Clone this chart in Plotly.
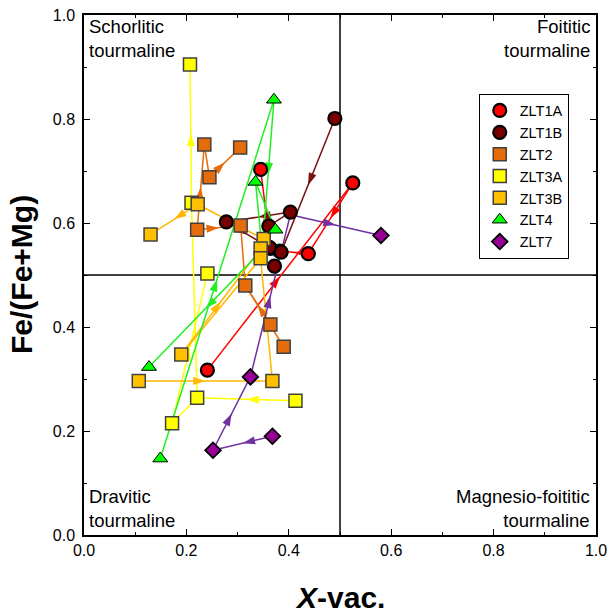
import plotly.graph_objects as go

# ---------------- data ----------------
series_names = ["ZLT1A", "ZLT1B", "ZLT2", "ZLT3A", "ZLT3B", "ZLT4", "ZLT7"]

ZLT1A_x = [0.241, 0.525, 0.438, 0.382, 0.364, 0.345]
ZLT1A_y = [0.317, 0.677, 0.541, 0.546, 0.551, 0.703]
ZLT1A_shown = [1, 1, 1, 1, 1, 1]
ZLT1A_arrows = [(0, 1), (1, 2), (2, 3), (4, 5)]
ZLT1A_links = []

ZLT1B_x = [0.278, 0.403, 0.361, 0.385, 0.372, 0.490, 0.362]
ZLT1B_y = [0.602, 0.621, 0.594, 0.544, 0.517, 0.801, 0.553]
ZLT1B_shown = [1, 1, 1, 1, 1, 1, 1]
ZLT1B_arrows = [(5, 3), (1, 0), (0, 6)]
ZLT1B_links = [(1, 2)]

ZLT2_x = [0.235, 0.305, 0.245, 0.221, 0.306, 0.315, 0.364, 0.390]
ZLT2_y = [0.751, 0.745, 0.688, 0.587, 0.595, 0.480, 0.405, 0.362]
ZLT2_shown = [1, 1, 1, 1, 1, 1, 1, 1]
ZLT2_arrows = [(3, 0), (2, 1), (3, 4), (6, 5), (7, 5)]
ZLT2_links = [(0, 2), (5, 4)]

ZLT3A_x = [0.207, 0.210, 0.241, 0.221, 0.172, 0.413]
ZLT3A_y = [0.905, 0.639, 0.503, 0.264, 0.215, 0.258]
ZLT3A_shown = [1, 1, 1, 1, 1, 1]
ZLT3A_arrows = [(1, 0), (5, 3), (4, 2)]
ZLT3A_links = [(3, 4), (3, 1)]

ZLT3B_x = [0.222, 0.130, 0.107, 0.368, 0.190, 0.351, 0.345, 0.345]
ZLT3B_y = [0.636, 0.578, 0.296, 0.296, 0.347, 0.569, 0.551, 0.532]
ZLT3B_shown = [1, 1, 1, 1, 1, 1, 1, 1]
ZLT3B_arrows = [(0, 1), (2, 3), (3, 7), (4, 6)]
ZLT3B_links = [(4, 7), (0, 5)]

ZLT4_x = [0.371, 0.335, 0.374, 0.127, 0.149, 0.348]
ZLT4_y = [0.837, 0.679, 0.587, 0.323, 0.147, 0.548]
ZLT4_shown = [1, 1, 1, 1, 1, 0]
ZLT4_arrows = [(0, 5), (4, 0), (5, 3)]
ZLT4_links = [(1, 2), (1, 5)]

ZLT7_x = [0.580, 0.325, 0.368, 0.252, 0.403]
ZLT7_y = [0.576, 0.304, 0.190, 0.163, 0.616]
ZLT7_shown = [1, 1, 1, 1, 0]
ZLT7_arrows = [(4, 0), (2, 3), (3, 1), (1, 4)]
ZLT7_links = []

quadrant_labels = ["Schorlitic<br>tourmaline", "Foititic<br>tourmaline",
                   "Dravitic<br>tourmaline", "Magnesio-foititic<br>tourmaline"]
tick_vals = [0.0, 0.2, 0.4, 0.6, 0.8, 1.0]
tick_text = ["0.0", "0.2", "0.4", "0.6", "0.8", "1.0"]

# ---------------- styles ----------------
styles = {
    "ZLT1A": dict(fill="#FF0000", line="#FF0000", symbol="circle", size=13, edge="#000000", ew=2.2),
    "ZLT1B": dict(fill="#7A0000", line="#7A1010", symbol="circle", size=13, edge="#000000", ew=2.2),
    "ZLT2": dict(fill="#E46C0A", line="#E46C0A", symbol="square", size=13, edge="#404040", ew=1.5),
    "ZLT3A": dict(fill="#FFFF00", line="#FFFF00", symbol="square", size=13, edge="#404040", ew=1.5),
    "ZLT3B": dict(fill="#FFC000", line="#FFB800", symbol="square", size=13, edge="#404040", ew=1.5),
    "ZLT4": dict(fill="#00FF00", line="#22EE22", symbol="triangle-up", size=13, edge="#000000", ew=1),
    "ZLT7": dict(fill="#990099", line="#7030A0", symbol="diamond", size=12, edge="#000000", ew=1.8),
}

data = {
    "ZLT1A": (ZLT1A_x, ZLT1A_y, ZLT1A_shown, ZLT1A_arrows, ZLT1A_links),
    "ZLT1B": (ZLT1B_x, ZLT1B_y, ZLT1B_shown, ZLT1B_arrows, ZLT1B_links),
    "ZLT2": (ZLT2_x, ZLT2_y, ZLT2_shown, ZLT2_arrows, ZLT2_links),
    "ZLT3A": (ZLT3A_x, ZLT3A_y, ZLT3A_shown, ZLT3A_arrows, ZLT3A_links),
    "ZLT3B": (ZLT3B_x, ZLT3B_y, ZLT3B_shown, ZLT3B_arrows, ZLT3B_links),
    "ZLT4": (ZLT4_x, ZLT4_y, ZLT4_shown, ZLT4_arrows, ZLT4_links),
    "ZLT7": (ZLT7_x, ZLT7_y, ZLT7_shown, ZLT7_arrows, ZLT7_links),
}

fig = go.Figure()

# lines with mid-arrows first
for name in series_names:
    xs, ys, shown, arrows, links = data[name]
    st = styles[name]
    for (i, j) in links:
        fig.add_trace(go.Scatter(x=[xs[i], xs[j]], y=[ys[i], ys[j]], mode="lines",
                                 line=dict(color=st["line"], width=1.5),
                                 showlegend=False, hoverinfo="skip"))
    for (i, j) in arrows:
        xm = (xs[i] + xs[j]) / 2
        ym = (ys[i] + ys[j]) / 2
        fig.add_trace(go.Scatter(
            x=[xs[i], xm, xs[j]], y=[ys[i], ym, ys[j]], mode="lines+markers",
            line=dict(color=st["line"], width=1.5),
            marker=dict(symbol=["circle", "arrow", "circle"], size=[0, 13, 0],
                        opacity=[0, 1, 0], angleref="previous", color=st["line"],
                        line=dict(width=0)),
            showlegend=False, hoverinfo="skip"))

# markers on top
for name in series_names:
    xs, ys, shown, arrows, links = data[name]
    st = styles[name]
    mx = [x for x, s in zip(xs, shown) if s]
    my = [y for y, s in zip(ys, shown) if s]
    fig.add_trace(go.Scatter(
        x=mx, y=my, mode="markers", name=name,
        marker=dict(symbol=st["symbol"], size=st["size"], color=st["fill"],
                    line=dict(color=st["edge"], width=st["ew"]))))

font_family = "Liberation Sans, Arial, sans-serif"

axis_common = dict(
    range=[0, 1], tickvals=tick_vals, ticktext=tick_text,
    ticks="inside", ticklen=6, tickwidth=1.2, tickcolor="black",
    minor=dict(ticks="inside", dtick=0.1, ticklen=3, tickwidth=1, tickcolor="black"),
    showline=True, linecolor="black", linewidth=1.5, mirror="allticks",
    showgrid=False, zeroline=False, automargin=False,
    tickfont=dict(family=font_family, size=16, color="black"),
    fixedrange=True,
)

fig.update_xaxes(**axis_common)
fig.update_yaxes(**axis_common, ticklabelstandoff=4)

# quadrant division lines
fig.add_shape(type="line", x0=0.5, x1=0.5, y0=0, y1=1, xref="x", yref="y",
              line=dict(color="black", width=1.5), layer="below")
fig.add_shape(type="line", x0=0, x1=1, y0=0.5, y1=0.5, xref="x", yref="y",
              line=dict(color="black", width=1.5), layer="below")

lab_font = dict(family=font_family, size=18.5, color="black")
fig.add_annotation(x=0, y=1, xref="x", yref="y", text=quadrant_labels[0], showarrow=False,
                   xanchor="left", yanchor="top", align="left", font=lab_font, xshift=3, yshift=1)
fig.add_annotation(x=1, y=1, xref="x", yref="y", text=quadrant_labels[1], showarrow=False,
                   xanchor="right", yanchor="top", align="right", font=lab_font, xshift=-4, yshift=1)
fig.add_annotation(x=0, y=0, xref="x", yref="y", text=quadrant_labels[2], showarrow=False,
                   xanchor="left", yanchor="bottom", align="left", font=lab_font, xshift=3, yshift=2)
fig.add_annotation(x=1, y=0, xref="x", yref="y", text=quadrant_labels[3], showarrow=False,
                   xanchor="right", yanchor="bottom", align="right", font=lab_font, xshift=-4, yshift=2)

# axis titles
title_font = dict(family=font_family, size=30, color="black")
fig.add_annotation(x=0.5, y=0, xref="paper", yref="paper", text="<b><i>X</i>-vac.</b>",
                   showarrow=False, xanchor="center", yanchor="middle", yshift=-62,
                   font=title_font)
fig.add_annotation(x=0, y=0.5, xref="paper", yref="paper", text="<b>Fe/(Fe+Mg)</b>",
                   showarrow=False, xanchor="center", yanchor="middle", xshift=-63,
                   textangle=-90, font=title_font)

fig.update_layout(
    width=610, height=613,
    margin=dict(l=84, r=14, t=15, b=78, pad=0),
    plot_bgcolor="white", paper_bgcolor="white",
    legend=dict(x=0.771, y=0.849, xanchor="left", yanchor="top",
                bordercolor="black", borderwidth=1, bgcolor="white",
                font=dict(family=font_family, size=14.5, color="black"),
                tracegroupgap=0, itemwidth=30),
    showlegend=True,
)

fig.write_html("out.html")
